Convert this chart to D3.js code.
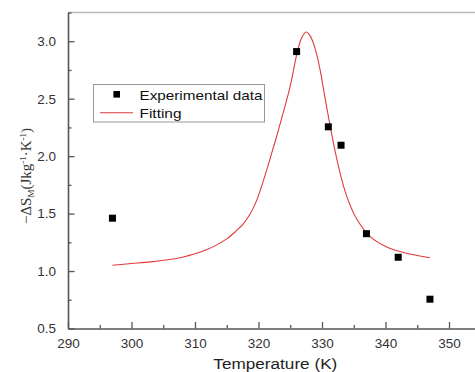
<!DOCTYPE html>
<html>
<head>
<meta charset="utf-8">
<script src="https://cdn.jsdelivr.net/npm/d3@7"></script>
<style>
  body { margin: 0; background: #fff; }
  svg { display: block; }
</style>
</head>
<body>
<svg id="chart" width="475" height="372"></svg>
<script>
// Experimental data
const expT = [297, 326, 331, 333, 337, 342, 347];
const expS = [1.46, 2.91, 2.255, 2.095, 1.325, 1.12, 0.755];
// Fitting curve
const fitT = [297, 300, 303, 306, 308, 310, 312, 313.5, 315, 316.3, 317.6, 318.6, 319.6, 320.5, 321.3, 322.1, 322.9, 323.7, 324.4, 325.2, 326.0, 326.8, 327.5, 328.2, 329.0, 329.7, 330.5, 331.5, 332.6, 333.9, 335.5, 337.6, 340.2, 343.3, 347.0];
const fitS = [1.05, 1.065, 1.08, 1.10, 1.12, 1.15, 1.19, 1.23, 1.28, 1.34, 1.41, 1.49, 1.60, 1.74, 1.88, 2.03, 2.18, 2.34, 2.48, 2.66, 2.88, 3.03, 3.08, 3.04, 2.92, 2.75, 2.50, 2.20, 1.91, 1.65, 1.45, 1.30, 1.21, 1.155, 1.115];
// Ticks
const xTicks = [290, 300, 310, 320, 330, 340, 350];
const xMinor = [295, 305, 315, 325, 335, 345, 355];
const yTicks = [0.5, 1.0, 1.5, 2.0, 2.5, 3.0];
const yMinor = [0.75, 1.25, 1.75, 2.25, 2.75, 3.25];
const legendLabels = ["Experimental data", "Fitting"];

const svg = d3.select("#chart");
const x = d3.scaleLinear().domain([290, 355]).range([68, 480.75]);
const y = d3.scaleLinear().domain([0.5, 3.25]).range([328.5, 12.5]);

const axisColor = "#555";
const labelFont = "'Liberation Sans', Arial, sans-serif";

// top border
svg.append("line").attr("x1", x(290)).attr("x2", 475).attr("y1", y(3.25)).attr("y2", y(3.25))
  .attr("stroke", "#bbb").attr("stroke-width", 1.5);

// bottom axis
const xAxis = d3.axisBottom(x).tickValues(xTicks).tickFormat(d3.format("d")).tickSizeInner(-6.5).tickSizeOuter(0).tickPadding(10);
const gx = svg.append("g").attr("transform", `translate(0,${y(0.5)})`).call(xAxis);
const xMin = d3.axisBottom(x).tickValues(xMinor).tickFormat("").tickSizeInner(-3.5).tickSizeOuter(0);
const gxm = svg.append("g").attr("transform", `translate(0,${y(0.5)})`).call(xMin);
gxm.select(".domain").remove();

// left axis
const yAxis = d3.axisLeft(y).tickValues(yTicks).tickFormat(d3.format(".1f")).tickSizeInner(-6.5).tickSizeOuter(0).tickPadding(12);
const gy = svg.append("g").attr("transform", `translate(${x(290)},0)`).call(yAxis);
const yMin = d3.axisLeft(y).tickValues(yMinor).tickFormat("").tickSizeInner(-3.5).tickSizeOuter(0);
const gym = svg.append("g").attr("transform", `translate(${x(290)},0)`).call(yMin);
gym.select(".domain").remove();

[gx, gy, gxm, gym].forEach(g => {
  g.selectAll(".domain").attr("stroke", axisColor).attr("stroke-width", 1.6);
  g.selectAll(".tick line").attr("stroke", axisColor).attr("stroke-width", 1.3);
  g.selectAll(".tick text").attr("fill", "#333").style("font-family", labelFont).style("font-size", "13.5px");
});

// fit line
const fitData = fitT.map((t, i) => [t, fitS[i]]);
const line = d3.line().x(d => x(d[0])).y(d => y(d[1])).curve(d3.curveCatmullRom.alpha(0.5));
svg.append("path").datum(fitData).attr("d", line)
  .attr("fill", "none").attr("stroke", "#e23a3a").attr("stroke-width", 1.1);

// points
const ms = 7;
svg.selectAll("rect.pt").data(expT.map((t, i) => [t, expS[i]])).enter().append("rect")
  .attr("class", "pt")
  .attr("x", d => x(d[0]) - ms / 2).attr("y", d => y(d[1]) - ms / 2)
  .attr("width", ms).attr("height", ms).attr("fill", "#000");

// legend
const lg = svg.append("g");
lg.append("rect").attr("x", 93.5).attr("y", 84.5).attr("width", 171).attr("height", 37.5)
  .attr("fill", "#fff").attr("stroke", "#999").attr("stroke-width", 1);
lg.append("rect").attr("x", 116.7 - 3.3).attr("y", 94.3 - 3.3).attr("width", 6.6).attr("height", 6.6).attr("fill", "#000");
lg.append("line").attr("x1", 100).attr("x2", 133).attr("y1", 112.7).attr("y2", 112.7)
  .attr("stroke", "#e23a3a").attr("stroke-width", 1.1);
lg.append("text").attr("x", 139.5).attr("y", 99.5).text(legendLabels[0])
  .attr("textLength", 123).attr("lengthAdjust", "spacingAndGlyphs")
  .style("font-family", labelFont).style("font-size", "13px").attr("fill", "#111");
lg.append("text").attr("x", 139.5).attr("y", 117.5).text(legendLabels[1])
  .attr("textLength", 42).attr("lengthAdjust", "spacingAndGlyphs")
  .style("font-family", labelFont).style("font-size", "13px").attr("fill", "#111");

// x title
svg.append("text").attr("x", 275.3).attr("y", 369.3).attr("text-anchor", "middle")
  .text("Temperature (K)")
  .attr("textLength", 124).attr("lengthAdjust", "spacingAndGlyphs")
  .style("font-family", labelFont).style("font-size", "15.5px").attr("fill", "#222");

// y title
const yt = svg.append("text").attr("transform", "translate(31,176) rotate(-90)")
  .attr("text-anchor", "middle")
  .style("font-family", "'Liberation Serif', 'Times New Roman', serif").style("font-size", "15px").attr("fill", "#333");
yt.append("tspan").text("\u2212\u0394S");
yt.append("tspan").attr("dy", 3).style("font-size", "9px").text("M");
yt.append("tspan").attr("dy", -3).text("(Jkg");
yt.append("tspan").attr("dy", -5).style("font-size", "9px").text("-1");
yt.append("tspan").attr("dy", 5).text("\u00b7K");
yt.append("tspan").attr("dy", -5).style("font-size", "9px").text("-1");
yt.append("tspan").attr("dy", 5).text(")");
</script>
</body>
</html>
